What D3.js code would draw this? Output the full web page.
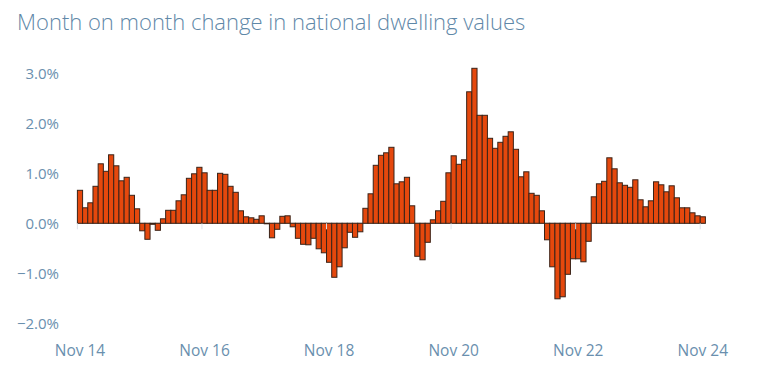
<!DOCTYPE html>
<html>
<head>
<meta charset="utf-8">
<script src="https://cdnjs.cloudflare.com/ajax/libs/d3/7.8.5/d3.min.js"></script>
<style>
  body { margin: 0; background: #fff; }
  svg { display: block; }
  text { font-family: "Open Sans", "Noto Sans", sans-serif; }
</style>
</head>
<body>
<div class="container"></div>
<script>
// Monthly change in national dwelling values, Nov 2014 - Nov 2024 (%)
const months = d3.timeMonth.range(new Date(2014, 10, 1), new Date(2024, 11, 1))
const changes = [
  0.66, 0.31, 0.41, 0.74, 1.19, 1.04, 1.37, 1.15, 0.85, 0.92, 0.56, 0.29,
  -0.15, -0.32, -0.02, -0.14, 0.09, 0.26, 0.26, 0.45, 0.57, 0.90, 0.99, 1.12,
  1.01, 0.66, 0.66, 1.00, 0.98, 0.74, 0.62, 0.25, 0.13, 0.11, 0.08, 0.15,
  -0.01, -0.29, -0.12, 0.14, 0.15, -0.07, -0.30, -0.42, -0.43, -0.30, -0.51, -0.59,
  -0.78, -1.08, -0.87, -0.49, -0.18, -0.28, -0.17, 0.30, 0.59, 1.16, 1.36, 1.41,
  1.52, 0.79, 0.83, 0.92, 0.35, -0.66, -0.73, -0.38, 0.07, 0.25, 0.44, 1.01,
  1.35, 1.18, 1.27, 2.63, 3.10, 2.16, 2.16, 1.70, 1.50, 1.62, 1.74, 1.83,
  1.48, 0.93, 1.03, 0.60, 0.56, 0.25, -0.33, -0.87, -1.51, -1.47, -1.02, -0.71,
  -0.71, -0.77, -0.36, 0.53, 0.79, 0.84, 1.31, 1.09, 0.81, 0.76, 0.72, 0.87,
  0.47, 0.33, 0.45, 0.83, 0.77, 0.63, 0.75, 0.51, 0.31, 0.31, 0.21, 0.15,
  0.13
]
const yTicks = [-2, -1, 0, 1, 2, 3]
const xTickLabels = ["Nov 14", "Nov 16", "Nov 18", "Nov 20", "Nov 22", "Nov 24"]

const w = 767
const h = 365
const dataset = months.map((m, i) => ({ month: m, value: changes[i] }))
const fmtMonth = d3.timeFormat("%b %y")
const textColor = "#6a8fae"

const svg = d3.select(".container")
              .append("svg")
              .attr("width", w)
              .attr("height", h)

// Title
svg.append("text")
   .attr("x", 17)
   .attr("y", 30)
   .attr("fill", "#5f88a8")
   .style("font-size", "22px")
   .style("font-weight", 300)
   .text("Month on month change in national dwelling values")

// Scales
const xScale = d3.scaleBand()
                 .domain(months)
                 .range([77.4, 705.4])
                 .padding(0)
const yScale = d3.scaleLinear()
                 .domain([-2, 3])
                 .range([323.3, 73.3])

// Zero line
svg.append("line")
   .attr("x1", xScale.range()[0])
   .attr("x2", xScale.range()[1])
   .attr("y1", yScale(0))
   .attr("y2", yScale(0))
   .attr("stroke", "#cfcfcf")
   .attr("stroke-width", 1.5)

// Bars
svg.selectAll("rect")
   .data(dataset)
   .enter()
   .append("rect")
   .attr("x", d => xScale(d.month))
   .attr("y", d => yScale(Math.max(0, d.value)))
   .attr("width", xScale.bandwidth())
   .attr("height", d => Math.abs(yScale(d.value) - yScale(0)))
   .style("fill", "#e5480d")
   .style("stroke", "#3a2318")
   .style("stroke-width", 1)

// x ticks at the start of every second November
const tickMonths = months.filter(m => xTickLabels.includes(fmtMonth(m)))
svg.selectAll(".xtick")
   .data(tickMonths)
   .enter()
   .append("line")
   .attr("class", "xtick")
   .attr("x1", d => xScale(d))
   .attr("x2", d => xScale(d))
   .attr("y1", yScale(0))
   .attr("y2", yScale(0) + 6)
   .attr("stroke", "#dde3ea")
   .attr("stroke-width", 1)

svg.selectAll(".xlabel")
   .data(tickMonths)
   .enter()
   .append("text")
   .attr("class", "xlabel")
   .attr("x", d => xScale(d) + xScale.bandwidth() / 2)
   .attr("y", 356)
   .attr("text-anchor", "middle")
   .attr("fill", textColor)
   .style("font-size", "15.5px")
   .text(d => fmtMonth(d))

// y labels
svg.selectAll(".ylabel")
   .data(yTicks)
   .enter()
   .append("text")
   .attr("class", "ylabel")
   .attr("x", 59)
   .attr("y", d => yScale(d))
   .attr("dy", "0.35em")
   .attr("text-anchor", "end")
   .attr("fill", textColor)
   .style("font-size", "15px")
   .text(d => d3.format(".1f")(d) + "%")
</script>
</body>
</html>
